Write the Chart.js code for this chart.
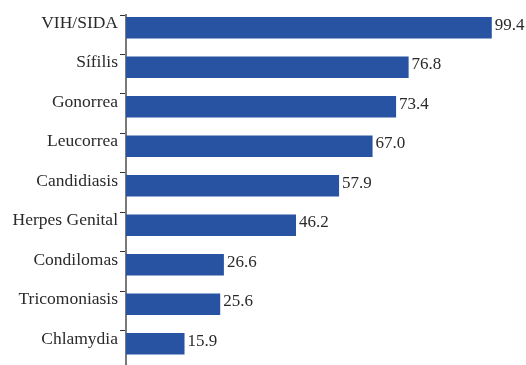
<!DOCTYPE html>
<html lang="es">
<head>
    <meta charset="UTF-8">
    <title>ITS</title>
    <script src="https://cdn.jsdelivr.net/npm/chart.js@4.4.0/dist/chart.umd.min.js"></script>
    <style>
        html, body {
            margin: 0;
            padding: 0;
            background: #ffffff;
        }
        .chart-wrapper {
            position: relative;
            width: 526px;
            height: 365px;
        }
    </style>
</head>
<body>
    <div class="chart-wrapper">
        <canvas id="itsChart"></canvas>
    </div>

    <script>
        // Data
        const categories = ['VIH/SIDA', 'Sífilis', 'Gonorrea', 'Leucorrea', 'Candidiasis',
                            'Herpes Genital', 'Condilomas', 'Tricomoniasis', 'Chlamydia'];
        const values = [99.4, 76.8, 73.4, 67.0, 57.9, 46.2, 26.6, 25.6, 15.9];

        const barColor = '#2852a2';
        const textColor = '#2a2a2a';
        const fontFamily = "'Liberation Serif', 'Times New Roman', serif";

        // tick marks sit a bit above each bar, not at its centre
        const tickShift = 0.323;

        // value labels at the end of each bar
        const valueLabels = {
            id: 'valueLabels',
            afterDatasetsDraw(chart) {
                const ctx = chart.ctx;
                const meta = chart.getDatasetMeta(0);
                ctx.save();
                ctx.font = '17px ' + fontFamily;
                ctx.fillStyle = textColor;
                ctx.textAlign = 'left';
                ctx.textBaseline = 'middle';
                meta.data.forEach(function(bar, i) {
                    ctx.fillText(values[i].toFixed(1), bar.x + 3, bar.y - 2.5);
                });
                ctx.restore();
            }
        };

        new Chart(document.getElementById('itsChart'), {
            type: 'bar',
            data: {
                datasets: [{
                    data: values.map(function(v, i) { return { x: v, y: i }; }),
                    backgroundColor: barColor,
                    borderWidth: 0,
                    barPercentage: 0.545,
                    categoryPercentage: 1.0
                }]
            },
            options: {
                indexAxis: 'y',
                responsive: true,
                maintainAspectRatio: false,
                animation: false,
                layout: {
                    padding: { top: 15, right: 32, bottom: 0, left: 0 }
                },
                plugins: {
                    legend: { display: false },
                    tooltip: { enabled: false }
                },
                scales: {
                    x: {
                        type: 'linear',
                        display: false,
                        min: 0,
                        max: 100
                    },
                    y: {
                        type: 'linear',
                        reverse: true,
                        offset: false,
                        bounds: 'data',
                        min: -tickShift,
                        max: categories.length - 1 + 0.538,
                        afterBuildTicks: function(scale) {
                            scale.ticks = categories.map(function(c, i) {
                                return { value: i - tickShift };
                            });
                        },
                        afterFit: function(scale) {
                            scale.width = 126;
                            scale.paddingTop = 0;
                            scale.paddingBottom = 0;
                        },
                        border: {
                            display: true,
                            color: '#7a7a7a',
                            width: 2
                        },
                        grid: {
                            offset: false,
                            drawOnChartArea: false,
                            drawTicks: true,
                            tickLength: 6,
                            tickColor: '#333333',
                            tickWidth: 1
                        },
                        ticks: {
                            autoSkip: false,
                            padding: 2,
                            labelOffset: 8,
                            color: textColor,
                            font: { family: fontFamily, size: 17.5 },
                            callback: function(value, index) {
                                return categories[index];
                            }
                        }
                    }
                }
            },
            plugins: [valueLabels]
        });
    </script>
</body>
</html>
